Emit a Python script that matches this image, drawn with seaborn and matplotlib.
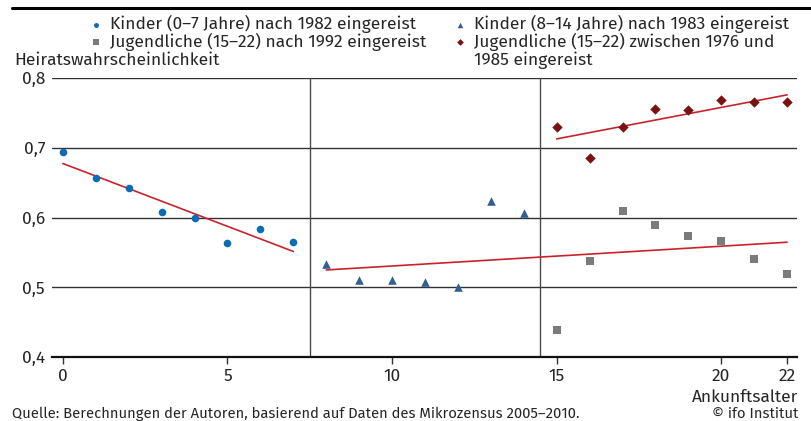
import numpy as np
import pandas as pd
import matplotlib
matplotlib.use("Agg")
import matplotlib.pyplot as plt
from matplotlib.lines import Line2D
import seaborn as sns

# ---- data ----
x_kinder07 = [0, 1, 2, 3, 4, 5, 6, 7]
y_kinder07 = [0.694, 0.657, 0.643, 0.608, 0.600, 0.564, 0.584, 0.565]

x_kinder814 = [8, 9, 10, 11, 12, 13, 14]
y_kinder814 = [0.534, 0.510, 0.510, 0.508, 0.501, 0.624, 0.607]

x_jug1992 = [15, 16, 17, 18, 19, 20, 21, 22]
y_jug1992 = [0.439, 0.538, 0.609, 0.589, 0.574, 0.567, 0.541, 0.519]

x_jug7685 = [15, 16, 17, 18, 19, 20, 21, 22]
y_jug7685 = [0.730, 0.686, 0.730, 0.755, 0.754, 0.768, 0.766, 0.765]

xticks = [0, 5, 10, 15, 20, 22]
yticks = [0.4, 0.5, 0.6, 0.7, 0.8]
ytick_labels = ["0,4", "0,5", "0,6", "0,7", "0,8"]

label_k07 = "Kinder (0–7 Jahre) nach 1982 eingereist"
label_k814 = "Kinder (8–14 Jahre) nach 1983 eingereist"
label_j92 = "Jugendliche (15–22) nach 1992 eingereist"
label_j7685_a = "Jugendliche (15–22) zwischen 1976 und"
label_j7685_b = "1985 eingereist"
source_text = "Quelle: Berechnungen der Autoren, basierend auf Daten des Mikrozensus 2005–2010."

sns.set_theme(style="white")
plt.rcParams["font.family"] = ["Source Sans Pro", "Fira Sans", "Archivo Narrow", "DejaVu Sans"]
plt.rcParams["font.weight"] = "normal"

fig = plt.figure(figsize=(8.11, 4.21), dpi=100)
renderer = fig.canvas.get_renderer()

def text_width(s, size):
    t = fig.text(0, 0, s, fontsize=size)
    w = t.get_window_extent(renderer).width
    t.remove()
    return w

fs_src = 12 * 568 / text_width(source_text, 12)
fs_leg = 12 * 305 / text_width(label_k07, 12)
fs_main = fs_leg

ax = fig.add_axes([52/811, 1-357/421, (797-52)/811, (357-78)/421])

c_blue = "#0b6cb6"
c_tri = "#2f5f95"
c_grey = "#7b7b7b"
c_red = "#7a1212"
c_line = "#c8232c"

for yv in [0.5, 0.6, 0.7, 0.8]:
    ax.axhline(yv, color="#333333", lw=1.0, zorder=1)
for xv in [7.5, 14.5]:
    ax.axvline(xv, color="#4a4a4a", lw=1.0, zorder=1)

df1 = pd.DataFrame({"x": x_kinder07, "y": y_kinder07})
df2 = pd.DataFrame({"x": x_kinder814, "y": y_kinder814})
df3 = pd.DataFrame({"x": x_jug1992, "y": y_jug1992})
df4 = pd.DataFrame({"x": x_jug7685, "y": y_jug7685})

h1 = ax.scatter(df1.x, df1.y, marker="o", s=30, color=c_blue, zorder=3, linewidths=0)
h2 = ax.scatter(df2.x, df2.y, marker="^", s=38, color=c_tri, zorder=3, linewidths=0)
h3 = ax.scatter(df3.x, df3.y, marker="s", s=32, color=c_grey, zorder=3, linewidths=0)
h4 = ax.scatter(df4.x, df4.y, marker="D", s=28, color=c_red, zorder=3, linewidths=0)

line_kw = dict(color=c_line, lw=1.2, zorder=2)
sns.regplot(data=df1, x="x", y="y", scatter=False, ci=None, truncate=True, ax=ax, line_kws=line_kw)
sns.regplot(data=pd.concat([df2, df3]), x="x", y="y", scatter=False, ci=None, truncate=True, ax=ax, line_kws=line_kw)
sns.regplot(data=df4, x="x", y="y", scatter=False, ci=None, truncate=True, ax=ax, line_kws=line_kw)

ax.set_xlim(-0.33, 22.3)
ax.set_ylim(0.4, 0.8)
ax.set_xticks(xticks)
ax.set_xticklabels([str(t) for t in xticks], fontsize=fs_main)
ax.set_yticks(yticks)
ax.set_yticklabels(ytick_labels, fontsize=fs_main)
ax.set_xlabel("")
ax.set_ylabel("")
for s in ["top", "right", "left"]:
    ax.spines[s].set_visible(False)
ax.spines["bottom"].set_color("#111111")
ax.spines["bottom"].set_linewidth(1.6)
ax.tick_params(axis="x", direction="out", length=5, width=1, color="#333333", pad=3, bottom=True)
ax.tick_params(axis="y", length=0, pad=5)

px = fs_leg * 100 / 72  # font size in pixels
leg = fig.legend([h1, h3, h2, h4], [label_k07, label_j92, label_k814, label_j7685_a],
                 ncol=2, loc="upper left", bbox_to_anchor=(88/811, 1-15/421),
                 frameon=False, fontsize=fs_leg, handletextpad=6/px, columnspacing=26/px,
                 labelspacing=-0.04, handlelength=16/px, markerscale=0.65, borderaxespad=0,
                 borderpad=0)
fig.canvas.draw()
lt = leg.get_texts()[3]
bb = lt.get_window_extent(renderer)
x_cont = bb.x0 / fig.bbox.width
y_cont = (bb.y0 + bb.y1) / 2 / fig.bbox.height - 18.5 / 421
fig.text(x_cont, y_cont, label_j7685_b, fontsize=fs_leg, va="center", ha="left")

fig.text(14/811, 1-60/421, "Heiratswahrscheinlichkeit", fontsize=fs_main, va="center", ha="left")
fig.text(798/811, 1-397/421, "Ankunftsalter", fontsize=fs_main, va="center", ha="right")
fig.text(12/811, 1-414/421, source_text, fontsize=fs_src, va="center", ha="left")
fig.text(798/811, 1-414/421, "© ifo Institut", fontsize=fs_src, va="center", ha="right")

fig.add_artist(Line2D([12/811, 1], [1-8/421, 1-8/421], color="black", lw=2.2, transform=fig.transFigure))

fig.savefig("out.png", dpi=100)
